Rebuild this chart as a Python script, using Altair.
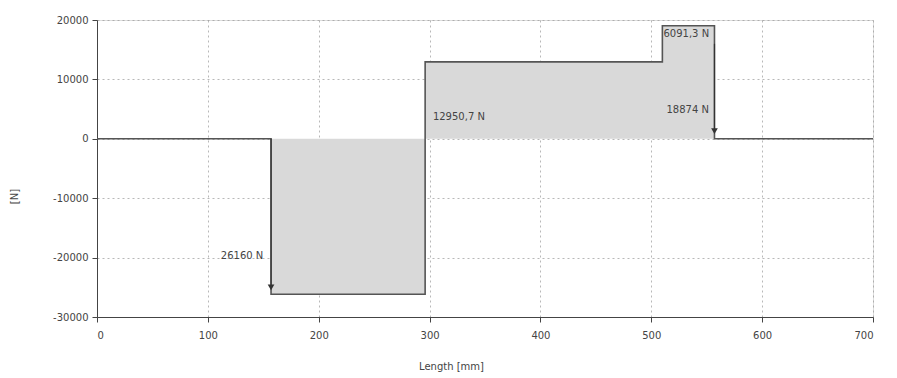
import altair as alt
import pandas as pd

# Shear force diagram (step function)
positions = [0, 157, 296, 510, 557, 700]
shear = [0, -26160, 12950.7, 19042, 0, 0]

label_text = ["26160 N", "12950,7 N", "6091,3 N", "18874 N"]
label_x = [150, 303, 511, 552]
label_y = [-19800, 3700, 17600, 4800]
label_align = ["right", "left", "left", "right"]

arrow_x = [157, 557]
arrow_top = [0, 16000]
arrow_bottom = [-25000, 1300]

x_ticks = [0, 100, 200, 300, 400, 500, 600, 700]
y_ticks = [-30000, -20000, -10000, 0, 10000, 20000]

df = pd.DataFrame({"x": positions, "y": shear})
labels = pd.DataFrame({"x": label_x, "y": label_y, "t": label_text, "a": label_align})
arrows = pd.DataFrame({"x": arrow_x, "y": arrow_top, "y2": arrow_bottom})

xs = alt.Scale(domain=[0, 700], nice=False)
ys = alt.Scale(domain=[-30000, 20000], nice=False)

xaxis = alt.Axis(values=x_ticks, title="Length [mm]", grid=True, gridDash=[2, 3],
                 gridColor="#9a9a9a", gridOpacity=0.7, domainColor="#444",
                 tickColor="#444", tickSize=5, labelFontSize=10, labelColor="#444",
                 labelFont="DejaVu Sans", labelPadding=8, titleFont="DejaVu Sans",
                 titleFontSize=10, titleFontWeight="normal", titleColor="#444",
                 titleX=354, titleY=49, titleBaseline="middle", titleAlign="center",
                 labelExpr="'' + datum.value")
yaxis = alt.Axis(values=y_ticks, title="[N]", grid=True, gridDash=[2, 3],
                 gridColor="#9a9a9a", gridOpacity=0.7, domainColor="#444",
                 tickColor="#444", tickSize=5, labelFontSize=10, labelColor="#444",
                 labelFont="DejaVu Sans", labelPadding=4, titleFont="DejaVu Sans",
                 titleFontSize=10, titleFontWeight="normal", titleColor="#444",
                 titleX=-83, titleY=176, titleBaseline="middle", titleAlign="center",
                 labelExpr="'' + datum.value")

area = alt.Chart(df).mark_area(interpolate="step-after", color="#d9d9d9", opacity=1).encode(
    x=alt.X("x:Q", scale=xs, axis=xaxis),
    y=alt.Y("y:Q", scale=ys, axis=yaxis),
    y2=alt.datum(0),
)
line = alt.Chart(df).mark_line(interpolate="step-after", color="#555555", strokeWidth=1.6).encode(
    x=alt.X("x:Q", scale=xs),
    y=alt.Y("y:Q", scale=ys),
)
rules = alt.Chart(arrows).mark_rule(color="#333", strokeWidth=1.2).encode(
    x=alt.X("x:Q", scale=xs), y=alt.Y("y:Q", scale=ys), y2="y2:Q"
)
heads = alt.Chart(arrows).mark_point(shape="triangle-down", filled=True, color="#333",
                                     size=45, opacity=1).encode(
    x=alt.X("x:Q", scale=xs), y=alt.Y("y2:Q", scale=ys)
)
txt_r = alt.Chart(labels[labels.a == "right"]).mark_text(
    align="right", baseline="middle", font="DejaVu Sans", fontSize=10, color="#444"
).encode(x=alt.X("x:Q", scale=xs), y=alt.Y("y:Q", scale=ys), text="t:N")
txt_l = alt.Chart(labels[labels.a == "left"]).mark_text(
    align="left", baseline="middle", font="DejaVu Sans", fontSize=10, color="#444"
).encode(x=alt.X("x:Q", scale=xs), y=alt.Y("y:Q", scale=ys), text="t:N")

chart = alt.layer(area, line, rules, heads, txt_r, txt_l).properties(
    width=776, height=297, autosize="none",
    padding={"left": 89, "top": 12, "right": 16, "bottom": 60},
).configure_view(stroke=None).configure(background="white")

chart.save("out.html", embed_options={"renderer": "svg", "actions": False})
